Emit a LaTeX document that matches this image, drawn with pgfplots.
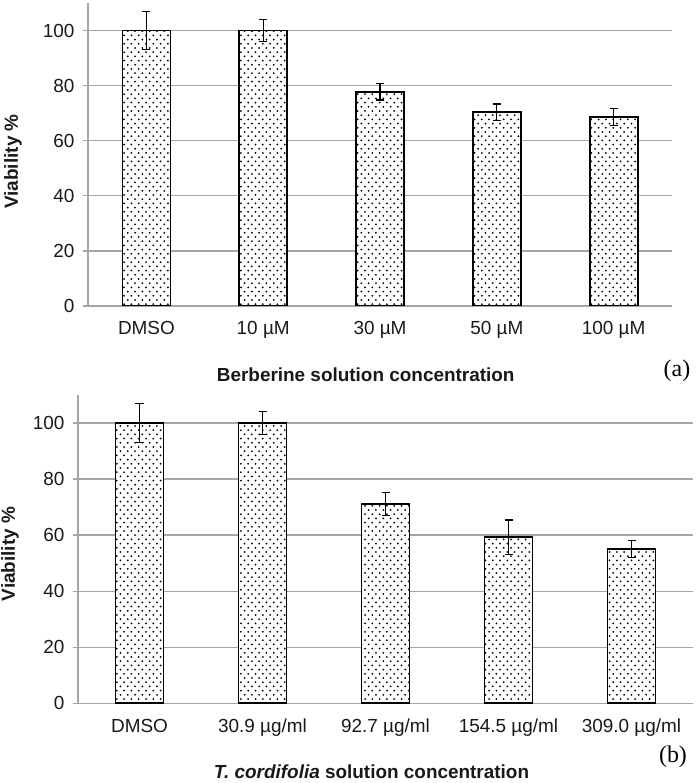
\documentclass[border=0pt]{standalone}
\usepackage{fontspec}
\setmainfont{Liberation Sans}
\newfontfamily\timesfont{Liberation Serif}
\usepackage{pgfplots}
\pgfplotsset{compat=1.18}
\usepackage{pgfplotstable}
\usetikzlibrary{patterns}
\definecolor{gridgray}{RGB}{165,165,165}
\pgfdeclarepatternformonly{mydots}{\pgfpoint{-1.2bp}{-1.2bp}}{\pgfpoint{8.6bp}{9.6bp}}{\pgfpoint{7.3bp}{8.4bp}}{
  \pgfpathcircle{\pgfpoint{0bp}{0bp}}{1.0bp}
  \pgfpathcircle{\pgfpoint{3.65bp}{4.2bp}}{1.0bp}
  \pgfusepath{fill}}
\pgfplotstableread{
x y e
0 100 7
1 100 4
2 77.8 3
3 70.3 3
4 68.6 3.1
}\dataA
\pgfplotstableread{
x y e
0 100 7
1 100 4
2 71.0 4.1
3 59.3 6.1
4 55.1 3.1
}\dataB
\pgfplotsset{
  mystyle/.style={
    scale only axis,
    ymin=0, ymax=110,
    xmin=-0.5, xmax=4.5,
    ytick={0,20,40,60,80,100},
    xtick={0,1,2,3,4},
    ymajorgrids,
    grid style={gridgray, line width=1.3bp},
    axis x line*=bottom,
    axis y line*=left,
    axis line style={gridgray, line width=1.3bp, -},
    tick align=outside,
    major tick length=5bp,
    ytick style={gridgray, line width=1.3bp},
    xtick style={draw=none},
    tick label style={font=\fontsize{19}{21}\selectfont, text=black!90},
    /pgf/number format/assume math mode=true,
    xticklabel style={yshift=-7bp},
    yticklabel style={xshift=-5bp},
    ybar,
    bar width=48bp,
  },
  mybar/.style={
    draw=black, line width=1.8bp, fill=white,
    postaction={pattern=mydots, pattern color=black},
    error bars/.cd,
      y dir=both, y explicit,
      error bar style={black, line width=1.2bp},
      error mark options={black, line width=1.2bp, mark size=4bp, rotate=90},
  },
}
\begin{document}
\begin{tikzpicture}
\useasboundingbox (0,0) rectangle (696bp,783bp);
\begin{axis}[mystyle,
  at={(88bp,477bp)}, anchor=south west,
  width=584bp, height=303bp,
  xticklabels={DMSO, 10 µM, 30 µM, 50 µM, 100 µM},
]
\addplot[mybar] table[x=x, y=y, y error=e] {\dataA};
\end{axis}
\begin{axis}[mystyle,
  at={(78bp,79.7bp)}, anchor=south west,
  width=615bp, height=308.3bp,
  xticklabels={DMSO, 30.9 µg/ml, 92.7 µg/ml, 154.5 µg/ml, 309.0 µg/ml},
]
\addplot[mybar] table[x=x, y=y, y error=e] {\dataB};
\end{axis}
\node[font=\fontsize{19}{21}\selectfont\bfseries, text=black!90] at (365.7bp,408bp) {Berberine solution concentration};
\node[font=\fontsize{19}{21}\selectfont\bfseries, text=black!90] at (371.5bp,11.5bp) {\textit{T. cordifolia} solution concentration};
\node[font=\fontsize{19}{21}\selectfont\bfseries, rotate=90, text=black!90] at (13bp,621.5bp) {Viability \%};
\node[font=\fontsize{19}{21}\selectfont\bfseries, rotate=90, text=black!90] at (10bp,229bp) {Viability \%};
\node[font=\fontsize{24}{26}\selectfont\timesfont] at (677bp,412.3bp) {(a)};
\node[font=\fontsize{24}{26}\selectfont\timesfont] at (673bp,26bp) {(b)};
\end{tikzpicture}
\end{document}
